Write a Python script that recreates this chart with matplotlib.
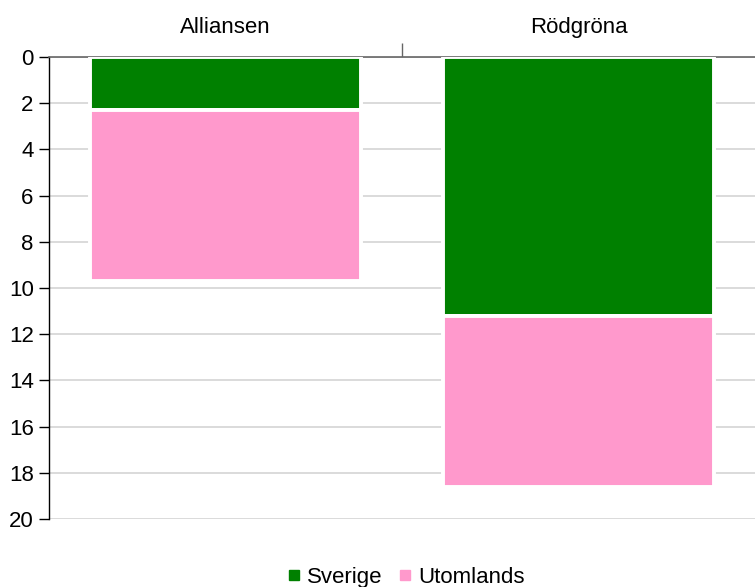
import numpy as np
import matplotlib.pyplot as plt
from matplotlib.lines import Line2D

plt.rcParams['font.family'] = ['Liberation Sans', 'DejaVu Sans']

# Data
categories = ['Alliansen', 'Rödgröna']
sverige = [2.3, 11.2]
utomlands = [7.4, 7.4]
series_names = ['Sverige', 'Utomlands']
colors = ['#008000', '#ff99cc']
y_ticks = [0, 2, 4, 6, 8, 10, 12, 14, 16, 18, 20]

fig = plt.figure(figsize=(7.55, 5.87), dpi=100)
ax = fig.add_axes([0.0649, 0.1158, 0.9351, 0.7871])

x = np.arange(len(categories))
bar_w = 0.77
ax.bar(x, sverige, width=bar_w, color=colors[0], edgecolor='white',
       linewidth=2.8, zorder=3)
ax.bar(x, utomlands, width=bar_w, bottom=sverige, color=colors[1],
       edgecolor='white', linewidth=2.8, zorder=3)

ax.set_xlim(-0.5, 1.5)
ax.set_ylim(20, 0)

# gridlines
ax.set_yticks(y_ticks)
ax.yaxis.grid(True, color='#d4d4d4', linewidth=1.2, zorder=0)
ax.set_axisbelow(True)
ax.tick_params(axis='y', length=7, width=1, color='#000000',
               labelsize=16, pad=4)

# category labels on top
ax.xaxis.tick_top()
ax.set_xticks(x)
ax.set_xticklabels(categories, fontsize=16)
ax.tick_params(axis='x', which='major', length=0, pad=14)
ax.set_xticks([0.5], minor=True)
ax.tick_params(axis='x', which='minor', length=10, width=1, color='#666666',
               top=True, bottom=False)

for side in ['right', 'bottom']:
    ax.spines[side].set_visible(False)
ax.spines['top'].set_color('#666666')
ax.spines['top'].set_linewidth(1.2)
ax.spines['left'].set_color('#000000')
ax.spines['left'].set_linewidth(1)

handles = [Line2D([0], [0], marker='s', linestyle='none', markersize=7.5,
                  markerfacecolor=c, markeredgecolor=c) for c in colors]
fig.legend(handles, series_names, loc='center', bbox_to_anchor=(0.535, 0.017),
           ncol=2, frameon=False, fontsize=16, handletextpad=0.1,
           columnspacing=0.5, handlelength=1.0)

plt.savefig('out.png', dpi=100)
plt.close()
